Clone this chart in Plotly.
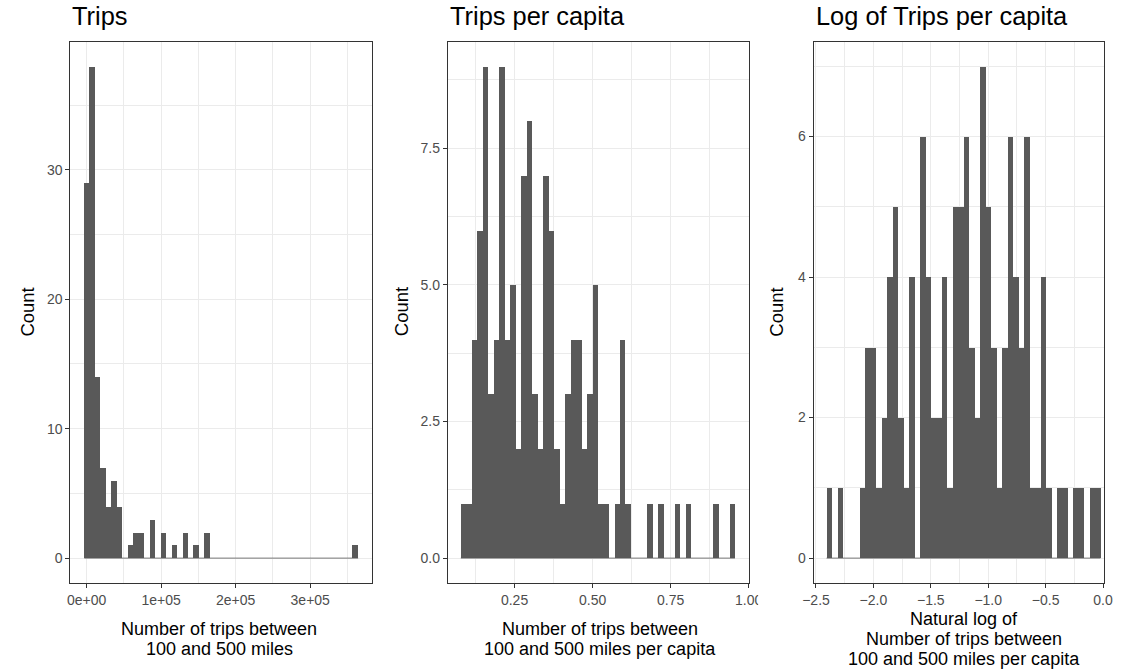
import plotly.graph_objects as go

W, H = 1132, 671

# ---------------- data (histogram counts, 50 bins each) ----------------
trips_counts = [29, 38, 14, 7, 4, 6, 4, 0, 1, 2,
                2, 0, 3, 0, 2, 0, 1, 0, 2, 0,
                1, 0, 2, 0, 0, 0, 0, 0, 0, 0,
                0, 0, 0, 0, 0, 0, 0, 0, 0, 0,
                0, 0, 0, 0, 0, 0, 0, 0, 0, 1]
trips_bin_start = -3017
trips_bin_width = 7345

pc_counts = [1, 1, 4, 6, 9, 3, 4, 9, 4, 5,
             2, 7, 8, 3, 2, 7, 6, 2, 1, 3,
             4, 4, 2, 3, 5, 1, 1, 0, 1, 4,
             1, 0, 0, 0, 1, 0, 1, 0, 0, 1,
             0, 1, 0, 0, 0, 0, 1, 0, 0, 1]
pc_bin_start = 0.0779
pc_bin_width = 0.017562

log_counts = [1, 0, 1, 0, 0, 0, 1, 3, 3, 1,
              2, 4, 5, 2, 1, 4, 0, 6, 4, 2,
              2, 4, 1, 5, 5, 6, 3, 2, 7, 5,
              3, 1, 3, 6, 4, 3, 6, 1, 1, 4,
              1, 0, 1, 1, 0, 1, 1, 0, 1, 1]
log_bin_start = -2.408
log_bin_width = 0.0477

titles = ["Trips", "Trips per capita", "Log of Trips per capita"]
x_title_lines = [
    ["Number of trips between", "100 and 500 miles"],
    ["Number of trips between", "100 and 500 miles per capita"],
    ["Natural log of", "Number of trips between", "100 and 500 miles per capita"],
]
y_title = "Count"

trips_xticks = [0, 100000, 200000, 300000]
trips_xtext = ["0e+00", "1e+05", "2e+05", "3e+05"]
trips_yticks = [0, 10, 20, 30]
trips_ytext = ["0", "10", "20", "30"]

pc_xticks = [0.25, 0.50, 0.75, 1.00]
pc_xtext = ["0.25", "0.50", "0.75", "1.00"]
pc_yticks = [0, 2.5, 5.0, 7.5]
pc_ytext = ["0.0", "2.5", "5.0", "7.5"]

log_xticks = [-2.5, -2.0, -1.5, -1.0, -0.5, 0.0]
log_xtext = ["\u22122.5", "\u22122.0", "\u22121.5", "\u22121.0", "\u22120.5", "0.0"]
log_yticks = [0, 2, 4, 6]
log_ytext = ["0", "2", "4", "6"]

# ---------------- styling / layout ----------------
FONT = "Liberation Sans, Arial, Helvetica, sans-serif"
BAR = "#595959"
GRID = "#EBEBEB"
BORDER = "#333333"

panels = [
    dict(counts=trips_counts, start=trips_bin_start, width=trips_bin_width,
         xdom_px=(60.7, 369.0), xrange=[-21780, 382660], yrange=[-1.9, 39.9],
         xt=(trips_xticks, trips_xtext), yt=(trips_yticks, trips_ytext),
         xminor=50000, yminor=5, title_x=60.7, xlab_x=213, ylab_x=17),
    dict(counts=pc_counts, start=pc_bin_start, width=pc_bin_width,
         xdom_px=(446.7, 754.5), xrange=[0.0363, 1.0005], yrange=[-0.45, 9.45],
         xt=(pc_xticks, pc_xtext), yt=(pc_yticks, pc_ytext),
         xminor=0.125, yminor=1.25, title_x=446.7, xlab_x=602, ylab_x=400),
    dict(counts=log_counts, start=log_bin_start, width=log_bin_width,
         xdom_px=(820.7, 1117.5), xrange=[-2.521, 0.007], yrange=[-0.35, 7.35],
         xt=(log_xticks, log_xtext), yt=(log_yticks, log_ytext),
         xminor=0.25, yminor=1, title_x=820.7, xlab_x=975, ylab_x=783),
]

Y_TOP, Y_BOT = 41.7, 582.7
ydom = [1 - Y_BOT / H, 1 - Y_TOP / H]
XLAB_CENTER = 638.5    # vertical centre of the x-axis title block (px from top)
XLAB_PITCH = 20        # line pitch of the x-axis title (px)
XLAB_SIZE = 18

fig = go.Figure()
annotations = []
layout_axes = {}

for i, p in enumerate(panels):
    n = i + 1
    xa = "x" if n == 1 else f"x{n}"
    ya = "y" if n == 1 else f"y{n}"
    centers = [p["start"] + (k + 0.5) * p["width"] for k in range(len(p["counts"]))]
    edge_lo = p["start"]
    edge_hi = p["start"] + len(p["counts"]) * p["width"]

    # thin baseline where zero-height bins sit
    fig.add_trace(go.Scatter(x=[edge_lo, edge_hi], y=[0, 0], mode="lines",
                             line=dict(color=BAR, width=0.8), hoverinfo="skip",
                             showlegend=False, xaxis=xa, yaxis=ya))
    fig.add_trace(go.Bar(x=centers, y=p["counts"], width=p["width"],
                         marker=dict(color=BAR, line=dict(width=0)),
                         showlegend=False, xaxis=xa, yaxis=ya))

    common = dict(showline=True, mirror=True, linecolor=BORDER, linewidth=1.1,
                  ticks="outside", ticklen=4, tickwidth=1.1, tickcolor=BORDER,
                  showgrid=True, gridcolor=GRID, gridwidth=1.1, zeroline=False,
                  tickfont=dict(family=FONT, size=14, color="#4D4D4D"),
                  tickmode="array")
    xkey = "xaxis" if n == 1 else f"xaxis{n}"
    ykey = "yaxis" if n == 1 else f"yaxis{n}"
    layout_axes[xkey] = dict(common, domain=[p["xdom_px"][0] / W, p["xdom_px"][1] / W],
                             range=p["xrange"], anchor=ya,
                             tickvals=p["xt"][0], ticktext=p["xt"][1],
                             minor=dict(tickmode="linear", tick0=0, dtick=p["xminor"],
                                        showgrid=True, gridcolor=GRID, gridwidth=0.55,
                                        ticklen=0))
    layout_axes[ykey] = dict(common, domain=ydom, range=p["yrange"], anchor=xa,
                             tickvals=p["yt"][0], ticktext=p["yt"][1],
                             minor=dict(tickmode="linear", tick0=0, dtick=p["yminor"],
                                        showgrid=True, gridcolor=GRID, gridwidth=0.55,
                                        ticklen=0))

    annotations.append(dict(text=titles[i], xref="paper", yref="paper",
                            x=p["title_x"] / W, y=1 - 16 / H, xanchor="left",
                            yanchor="middle", showarrow=False,
                            font=dict(family=FONT, size=25.4, color="black")))
    lines = x_title_lines[i]
    first = XLAB_CENTER - (len(lines) - 1) * XLAB_PITCH / 2
    for j, line in enumerate(lines):
        annotations.append(dict(text=line, xref="paper", yref="paper",
                                x=p["xlab_x"] / W, y=1 - (first + j * XLAB_PITCH) / H,
                                xanchor="center", yanchor="middle", showarrow=False,
                                borderpad=0,
                                font=dict(family=FONT, size=XLAB_SIZE, color="black")))
    annotations.append(dict(text=y_title, xref="paper", yref="paper",
                            x=p["ylab_x"] / W, y=1 - 312 / H, xanchor="center",
                            yanchor="middle", showarrow=False, textangle=-90,
                            font=dict(family=FONT, size=18.5, color="black")))

fig.update_layout(
    width=W, height=H,
    margin=dict(l=0, r=0, t=0, b=0),
    paper_bgcolor="white", plot_bgcolor="white",
    bargap=0, barmode="overlay",
    annotations=annotations,
    shapes=[dict(type="rect", xref="paper", yref="paper", layer="above",
                 x0=764 / W, x1=778 / W, y0=1 - 615 / H, y1=1 - 588 / H,
                 fillcolor="white", line=dict(width=0))],
    **layout_axes,
)

# the page body has a default 8px margin; remove it so the figure fills the window
fig.write_html("out.html",
               config={"displayModeBar": False},
               post_script="document.body.style.margin='0px';"
                           "document.body.style.overflow='hidden';")
